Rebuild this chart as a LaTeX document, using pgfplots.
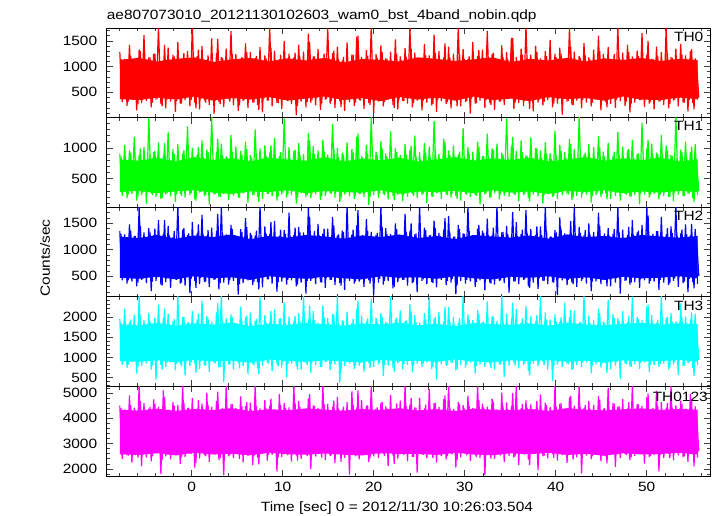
\documentclass[border=0pt]{standalone}
\usepackage{fontspec}
\setmainfont[FakeStretch=1.15]{Liberation Sans}
\usepackage{pgfplots}
\pgfplotsset{compat=1.18}
\usepackage{pgfplotstable}
\usepgfplotslibrary{fillbetween}

\definecolor{qred}{RGB}{255,0,0}
\definecolor{qgreen}{RGB}{0,255,0}
\definecolor{qblue}{RGB}{0,0,255}
\definecolor{qcyan}{RGB}{0,255,255}
\definecolor{qmag}{RGB}{255,0,255}

% light curves: even bins (a) and odd bins (b), high/low excursions
\pgfplotstableread[row sep=\\]{
y\\
1280\\ 310\\ 1150\\ 240\\ 1420\\ 380\\ 1090\\ 150\\ 1330\\ 290\\ 1610\\ 330\\ 1180\\ 210\\ 1250\\ 360\\ 1760\\ 270\\ 1120\\ 190\\
1370\\ 320\\ 1230\\ 120\\ 1480\\ 280\\ 1160\\ 350\\ 1300\\ 230\\ 1790\\ 300\\ 1210\\ 170\\ 1400\\ 340\\ 1130\\ 260\\ 1550\\ 90\\
1260\\ 310\\ 1190\\ 220\\ 1350\\ 370\\ 1690\\ 250\\ 1240\\ 140\\ 1110\\ 330\\ 1450\\ 200\\ 1280\\ 300\\ 1170\\ 260\\ 1380\\ 110\\
1220\\ 340\\ 1760\\ 230\\ 1310\\ 290\\ 1140\\ 180\\ 1500\\ 350\\ 1250\\ 270\\ 1180\\ 60\\ 1420\\ 320\\ 1290\\ 210\\ 1640\\ 300\\
1200\\ 250\\ 1340\\ 160\\ 1150\\ 360\\ 1770\\ 280\\ 1260\\ 200\\ 1390\\ 330\\ 1120\\ 140\\ 1470\\ 310\\ 1230\\ 240\\ 1580\\ 350\\
1190\\ 180\\ 1320\\ 290\\ 1780\\ 100\\ 1240\\ 320\\ 1410\\ 230\\ 1160\\ 360\\ 1290\\ 260\\ 1530\\ 170\\ 1200\\ 330\\ 1360\\ 280\\
1760\\ 210\\ 1270\\ 340\\ 1130\\ 150\\ 1440\\ 300\\ 1220\\ 250\\ 1620\\ 120\\ 1300\\ 330\\ 1180\\ 270\\ 1390\\ 190\\ 1250\\ 350\\
1770\\ 230\\ 1340\\ 310\\ 1150\\ 90\\ 1480\\ 280\\ 1210\\ 340\\ 1330\\ 200\\ 1690\\ 300\\ 1240\\ 160\\ 1120\\ 320\\ 1410\\ 260\\
1280\\ 370\\ 1560\\ 180\\ 1190\\ 290\\ 1350\\ 240\\ 1790\\ 330\\ 1230\\ 130\\ 1400\\ 300\\ 1160\\ 250\\ 1300\\ 350\\ 1520\\ 210\\
1250\\ 280\\ 1370\\ 70\\ 1140\\ 320\\ 1760\\ 260\\ 1290\\ 340\\ 1210\\ 190\\ 1460\\ 300\\ 1180\\ 230\\ 1330\\ 360\\ 1600\\ 150\\
1240\\ 310\\ 1380\\ 270\\ 1130\\ 200\\ 1770\\ 330\\ 1270\\ 240\\ 1420\\ 110\\ 1200\\ 300\\ 1310\\ 350\\ 1650\\ 220\\ 1230\\ 280\\
1150\\ 170\\ 1390\\ 320\\ 1280\\ 260\\ 1780\\ 190\\ 1190\\ 340\\ 1350\\ 230\\ 1440\\ 300\\ 1220\\ 130\\ 1300\\ 290\\ 1160\\ 360\\
}\tzeroa
\pgfplotstableread[row sep=\\]{
y\\
1150\\ 380\\ 1090\\ 320\\ 1210\\ 400\\ 1120\\ 270\\ 1300\\ 350\\ 1080\\ 410\\ 1180\\ 300\\ 1250\\ 380\\ 1110\\ 230\\ 1420\\ 360\\
1130\\ 390\\ 1200\\ 330\\ 1070\\ 280\\ 1260\\ 410\\ 1160\\ 350\\ 1100\\ 190\\ 1330\\ 370\\ 1140\\ 300\\ 1220\\ 400\\ 1090\\ 340\\
1540\\ 270\\ 1170\\ 380\\ 1120\\ 320\\ 1240\\ 410\\ 1080\\ 250\\ 1190\\ 360\\ 1280\\ 390\\ 1130\\ 300\\ 1210\\ 160\\ 1100\\ 380\\
1160\\ 340\\ 1370\\ 400\\ 1090\\ 290\\ 1230\\ 370\\ 1150\\ 330\\ 1110\\ 410\\ 1270\\ 240\\ 1180\\ 380\\ 1060\\ 310\\ 1480\\ 350\\
1200\\ 400\\ 1120\\ 280\\ 1250\\ 370\\ 1090\\ 330\\ 1310\\ 410\\ 1140\\ 220\\ 1190\\ 360\\ 1080\\ 390\\ 1230\\ 300\\ 1600\\ 340\\
1130\\ 380\\ 1210\\ 260\\ 1100\\ 410\\ 1170\\ 350\\ 1280\\ 310\\ 1150\\ 390\\ 1070\\ 200\\ 1240\\ 360\\ 1120\\ 330\\ 1190\\ 400\\
1350\\ 290\\ 1160\\ 380\\ 1090\\ 340\\ 1220\\ 410\\ 1130\\ 270\\ 1260\\ 360\\ 1110\\ 390\\ 1450\\ 310\\ 1180\\ 350\\ 1100\\ 230\\
1240\\ 400\\ 1150\\ 330\\ 1200\\ 380\\ 1080\\ 290\\ 1320\\ 410\\ 1170\\ 350\\ 1120\\ 260\\ 1270\\ 390\\ 1090\\ 320\\ 1190\\ 370\\
1140\\ 410\\ 1560\\ 300\\ 1110\\ 380\\ 1230\\ 340\\ 1160\\ 180\\ 1080\\ 400\\ 1290\\ 360\\ 1130\\ 310\\ 1210\\ 390\\ 1100\\ 280\\
1180\\ 370\\ 1250\\ 410\\ 1120\\ 330\\ 1390\\ 250\\ 1090\\ 380\\ 1170\\ 350\\ 1220\\ 400\\ 1140\\ 300\\ 1060\\ 370\\ 1300\\ 340\\
1160\\ 210\\ 1110\\ 390\\ 1240\\ 360\\ 1190\\ 410\\ 1080\\ 320\\ 1280\\ 280\\ 1130\\ 380\\ 1210\\ 350\\ 1100\\ 400\\ 1500\\ 310\\
1150\\ 380\\ 1200\\ 330\\ 1090\\ 410\\ 1260\\ 270\\ 1170\\ 360\\ 1120\\ 390\\ 1230\\ 300\\ 1140\\ 350\\ 1340\\ 170\\ 1110\\ 400\\
}\tzerob

\pgfplotstableread[row sep=\\]{
y\\
900\\ 220\\ 1050\\ 180\\ 960\\ 250\\ 1180\\ 140\\ 880\\ 230\\ 1010\\ 90\\ 1490\\ 260\\ 930\\ 200\\ 1090\\ 170\\ 870\\ 240\\
1250\\ 210\\ 980\\ 120\\ 1060\\ 250\\ 910\\ 190\\ 1350\\ 230\\ 1000\\ 160\\ 890\\ 270\\ 1120\\ 210\\ 970\\ 80\\ 1500\\ 240\\
940\\ 200\\ 1070\\ 250\\ 860\\ 150\\ 1210\\ 220\\ 1020\\ 190\\ 950\\ 260\\ 1100\\ 110\\ 880\\ 230\\ 1300\\ 200\\ 990\\ 170\\
1040\\ 250\\ 920\\ 210\\ 1160\\ 140\\ 870\\ 240\\ 1480\\ 190\\ 1010\\ 230\\ 950\\ 90\\ 1080\\ 260\\ 900\\ 200\\ 1240\\ 180\\
1030\\ 240\\ 960\\ 150\\ 1130\\ 220\\ 890\\ 260\\ 1390\\ 190\\ 1000\\ 120\\ 920\\ 240\\ 1090\\ 210\\ 980\\ 170\\ 1180\\ 250\\
870\\ 200\\ 1050\\ 70\\ 1500\\ 230\\ 940\\ 190\\ 1110\\ 250\\ 910\\ 160\\ 1270\\ 220\\ 1000\\ 240\\ 880\\ 130\\ 1060\\ 200\\
970\\ 250\\ 1200\\ 180\\ 930\\ 230\\ 1080\\ 100\\ 1020\\ 210\\ 1440\\ 260\\ 900\\ 170\\ 1150\\ 240\\ 960\\ 190\\ 1040\\ 220\\
890\\ 140\\ 1320\\ 250\\ 1010\\ 200\\ 940\\ 230\\ 1100\\ 80\\ 870\\ 240\\ 1230\\ 190\\ 990\\ 260\\ 1070\\ 160\\ 920\\ 220\\
1490\\ 200\\ 1030\\ 250\\ 950\\ 130\\ 1120\\ 230\\ 880\\ 180\\ 1170\\ 240\\ 1000\\ 210\\ 960\\ 90\\ 1090\\ 250\\ 910\\ 200\\
1280\\ 170\\ 1050\\ 230\\ 930\\ 260\\ 1140\\ 150\\ 980\\ 220\\ 1500\\ 190\\ 890\\ 240\\ 1060\\ 110\\ 1010\\ 230\\ 1190\\ 200\\
940\\ 260\\ 1080\\ 170\\ 870\\ 220\\ 1260\\ 140\\ 1020\\ 250\\ 960\\ 200\\ 1130\\ 230\\ 900\\ 80\\ 1410\\ 240\\ 990\\ 190\\
1070\\ 250\\ 920\\ 160\\ 1210\\ 220\\ 1040\\ 200\\ 880\\ 130\\ 1500\\ 240\\ 970\\ 210\\ 1100\\ 250\\ 930\\ 180\\ 1060\\ 230\\
}\tonea
\pgfplotstableread[row sep=\\]{
y\\
860\\ 280\\ 810\\ 240\\ 920\\ 300\\ 830\\ 210\\ 990\\ 270\\ 800\\ 290\\ 880\\ 230\\ 950\\ 300\\ 820\\ 180\\ 1080\\ 260\\
840\\ 290\\ 900\\ 250\\ 790\\ 220\\ 960\\ 300\\ 870\\ 260\\ 820\\ 140\\ 1010\\ 280\\ 850\\ 230\\ 930\\ 300\\ 810\\ 250\\
1150\\ 200\\ 880\\ 280\\ 830\\ 240\\ 940\\ 300\\ 800\\ 190\\ 890\\ 270\\ 980\\ 290\\ 840\\ 230\\ 910\\ 120\\ 820\\ 280\\
870\\ 250\\ 1040\\ 300\\ 800\\ 220\\ 930\\ 270\\ 860\\ 240\\ 820\\ 300\\ 970\\ 180\\ 880\\ 280\\ 780\\ 230\\ 1120\\ 260\\
900\\ 300\\ 830\\ 210\\ 950\\ 270\\ 810\\ 250\\ 1000\\ 300\\ 850\\ 170\\ 890\\ 270\\ 800\\ 290\\ 930\\ 220\\ 1230\\ 250\\
840\\ 280\\ 910\\ 200\\ 820\\ 300\\ 880\\ 260\\ 980\\ 230\\ 860\\ 290\\ 790\\ 150\\ 940\\ 270\\ 830\\ 240\\ 890\\ 300\\
1030\\ 220\\ 870\\ 280\\ 810\\ 250\\ 920\\ 300\\ 840\\ 200\\ 960\\ 270\\ 820\\ 290\\ 1100\\ 230\\ 880\\ 260\\ 820\\ 170\\
940\\ 300\\ 860\\ 240\\ 900\\ 280\\ 800\\ 220\\ 1020\\ 300\\ 870\\ 260\\ 830\\ 190\\ 970\\ 290\\ 810\\ 240\\ 890\\ 270\\
850\\ 300\\ 1180\\ 230\\ 820\\ 280\\ 930\\ 250\\ 860\\ 130\\ 800\\ 300\\ 990\\ 270\\ 840\\ 230\\ 910\\ 290\\ 820\\ 210\\
880\\ 270\\ 950\\ 300\\ 830\\ 240\\ 1060\\ 190\\ 810\\ 280\\ 870\\ 260\\ 920\\ 300\\ 850\\ 220\\ 790\\ 270\\ 1000\\ 250\\
860\\ 160\\ 820\\ 290\\ 940\\ 270\\ 890\\ 300\\ 800\\ 240\\ 980\\ 210\\ 840\\ 280\\ 910\\ 260\\ 820\\ 300\\ 1130\\ 230\\
860\\ 280\\ 900\\ 240\\ 810\\ 300\\ 960\\ 200\\ 870\\ 270\\ 830\\ 290\\ 930\\ 220\\ 840\\ 260\\ 1020\\ 120\\ 820\\ 300\\
}\toneb

\pgfplotstableread[row sep=\\]{
y\\
1350\\ 420\\ 1290\\ 360\\ 1480\\ 400\\ 1260\\ 310\\ 1820\\ 430\\ 1330\\ 370\\ 1410\\ 220\\ 1270\\ 410\\ 1560\\ 340\\ 1300\\ 390\\
1450\\ 280\\ 1240\\ 440\\ 1830\\ 360\\ 1380\\ 320\\ 1280\\ 180\\ 1520\\ 410\\ 1310\\ 350\\ 1660\\ 390\\ 1260\\ 300\\ 1420\\ 430\\
1350\\ 250\\ 1810\\ 380\\ 1290\\ 340\\ 1470\\ 410\\ 1250\\ 150\\ 1390\\ 370\\ 1600\\ 420\\ 1320\\ 330\\ 1270\\ 390\\ 1830\\ 290\\
1440\\ 440\\ 1300\\ 360\\ 1540\\ 210\\ 1260\\ 400\\ 1370\\ 340\\ 1700\\ 420\\ 1280\\ 310\\ 1430\\ 380\\ 1330\\ 170\\ 1820\\ 410\\
1250\\ 350\\ 1490\\ 390\\ 1310\\ 280\\ 1400\\ 430\\ 1620\\ 330\\ 1270\\ 370\\ 1360\\ 240\\ 1830\\ 410\\ 1290\\ 360\\ 1460\\ 400\\
1250\\ 300\\ 1580\\ 420\\ 1340\\ 140\\ 1280\\ 380\\ 1810\\ 340\\ 1410\\ 410\\ 1300\\ 270\\ 1500\\ 390\\ 1260\\ 430\\ 1680\\ 320\\
1350\\ 370\\ 1290\\ 200\\ 1830\\ 410\\ 1420\\ 350\\ 1270\\ 390\\ 1550\\ 290\\ 1320\\ 430\\ 1380\\ 330\\ 1640\\ 380\\ 1250\\ 160\\
1470\\ 410\\ 1310\\ 360\\ 1820\\ 400\\ 1280\\ 300\\ 1400\\ 420\\ 1360\\ 230\\ 1590\\ 380\\ 1270\\ 340\\ 1830\\ 410\\ 1330\\ 370\\
1450\\ 190\\ 1260\\ 400\\ 1520\\ 350\\ 1300\\ 430\\ 1750\\ 310\\ 1390\\ 380\\ 1280\\ 260\\ 1440\\ 410\\ 1810\\ 350\\ 1250\\ 390\\
1370\\ 140\\ 1610\\ 420\\ 1310\\ 330\\ 1290\\ 380\\ 1830\\ 300\\ 1430\\ 410\\ 1270\\ 360\\ 1500\\ 220\\ 1340\\ 400\\ 1700\\ 350\\
1260\\ 430\\ 1410\\ 310\\ 1300\\ 380\\ 1820\\ 170\\ 1380\\ 410\\ 1280\\ 340\\ 1560\\ 390\\ 1330\\ 280\\ 1470\\ 420\\ 1810\\ 360\\
1250\\ 400\\ 1350\\ 240\\ 1620\\ 380\\ 1290\\ 330\\ 1440\\ 410\\ 1830\\ 300\\ 1310\\ 370\\ 1480\\ 200\\ 1270\\ 390\\ 1390\\ 350\\
}\ttwoa
\pgfplotstableread[row sep=\\]{
y\\
1300\\ 470\\ 1240\\ 420\\ 1360\\ 500\\ 1260\\ 380\\ 1450\\ 450\\ 1230\\ 490\\ 1330\\ 400\\ 1400\\ 480\\ 1250\\ 320\\ 1560\\ 460\\
1270\\ 490\\ 1350\\ 430\\ 1220\\ 380\\ 1410\\ 500\\ 1310\\ 450\\ 1250\\ 280\\ 1480\\ 470\\ 1280\\ 400\\ 1370\\ 500\\ 1240\\ 440\\
1680\\ 370\\ 1320\\ 480\\ 1260\\ 420\\ 1390\\ 500\\ 1230\\ 350\\ 1340\\ 460\\ 1430\\ 490\\ 1280\\ 400\\ 1360\\ 250\\ 1250\\ 480\\
1310\\ 440\\ 1520\\ 500\\ 1240\\ 390\\ 1380\\ 470\\ 1300\\ 430\\ 1260\\ 500\\ 1420\\ 340\\ 1330\\ 480\\ 1210\\ 410\\ 1620\\ 450\\
1350\\ 500\\ 1270\\ 380\\ 1400\\ 470\\ 1240\\ 430\\ 1460\\ 500\\ 1290\\ 320\\ 1340\\ 460\\ 1230\\ 490\\ 1380\\ 400\\ 1750\\ 440\\
1280\\ 480\\ 1360\\ 360\\ 1250\\ 500\\ 1320\\ 450\\ 1430\\ 410\\ 1300\\ 490\\ 1220\\ 300\\ 1390\\ 460\\ 1270\\ 430\\ 1340\\ 500\\
1500\\ 390\\ 1310\\ 480\\ 1240\\ 440\\ 1370\\ 500\\ 1280\\ 370\\ 1410\\ 460\\ 1260\\ 490\\ 1600\\ 410\\ 1330\\ 450\\ 1250\\ 330\\
1390\\ 500\\ 1300\\ 430\\ 1350\\ 480\\ 1230\\ 390\\ 1470\\ 500\\ 1320\\ 450\\ 1270\\ 360\\ 1420\\ 490\\ 1240\\ 420\\ 1340\\ 470\\
1290\\ 500\\ 1710\\ 400\\ 1260\\ 480\\ 1380\\ 440\\ 1310\\ 280\\ 1230\\ 500\\ 1440\\ 460\\ 1280\\ 410\\ 1360\\ 490\\ 1250\\ 380\\
1330\\ 470\\ 1400\\ 500\\ 1270\\ 430\\ 1540\\ 350\\ 1240\\ 480\\ 1320\\ 450\\ 1370\\ 500\\ 1290\\ 400\\ 1210\\ 470\\ 1450\\ 440\\
1310\\ 310\\ 1260\\ 490\\ 1390\\ 460\\ 1340\\ 500\\ 1230\\ 420\\ 1430\\ 380\\ 1280\\ 480\\ 1360\\ 450\\ 1250\\ 500\\ 1650\\ 410\\
1300\\ 480\\ 1350\\ 430\\ 1240\\ 500\\ 1410\\ 370\\ 1320\\ 460\\ 1270\\ 490\\ 1380\\ 400\\ 1290\\ 450\\ 1490\\ 270\\ 1260\\ 500\\
}\ttwob

\pgfplotstableread[row sep=\\]{
y\\
1950\\ 820\\ 2200\\ 740\\ 1870\\ 880\\ 2050\\ 600\\ 2520\\ 790\\ 1920\\ 850\\ 2100\\ 700\\ 1840\\ 450\\ 2300\\ 810\\ 1980\\ 760\\
2080\\ 870\\ 1890\\ 680\\ 2510\\ 830\\ 2000\\ 560\\ 1860\\ 790\\ 2150\\ 860\\ 1930\\ 720\\ 2400\\ 800\\ 2020\\ 640\\ 1880\\ 870\\
2120\\ 750\\ 2530\\ 400\\ 1960\\ 820\\ 2060\\ 700\\ 1850\\ 860\\ 2250\\ 780\\ 1990\\ 590\\ 2110\\ 840\\ 1900\\ 730\\ 2500\\ 800\\
2040\\ 870\\ 1870\\ 660\\ 2180\\ 820\\ 1950\\ 750\\ 2360\\ 500\\ 2010\\ 850\\ 1880\\ 780\\ 2090\\ 700\\ 2520\\ 860\\ 1930\\ 620\\
2140\\ 810\\ 1860\\ 760\\ 2280\\ 880\\ 1970\\ 690\\ 2070\\ 820\\ 2510\\ 380\\ 1910\\ 790\\ 2130\\ 850\\ 1850\\ 720\\ 2200\\ 800\\
2030\\ 650\\ 1890\\ 870\\ 2450\\ 760\\ 1980\\ 830\\ 2100\\ 540\\ 1870\\ 800\\ 2530\\ 740\\ 1940\\ 860\\ 2160\\ 700\\ 1900\\ 810\\
2320\\ 630\\ 2050\\ 850\\ 1860\\ 770\\ 2090\\ 880\\ 2500\\ 720\\ 1960\\ 450\\ 2120\\ 830\\ 1880\\ 790\\ 2240\\ 860\\ 2000\\ 680\\
1850\\ 810\\ 2520\\ 750\\ 2060\\ 870\\ 1920\\ 600\\ 2170\\ 820\\ 1870\\ 770\\ 2380\\ 850\\ 2010\\ 700\\ 1900\\ 830\\ 2530\\ 520\\
2080\\ 790\\ 1950\\ 860\\ 2190\\ 730\\ 1860\\ 810\\ 2270\\ 660\\ 2020\\ 850\\ 1890\\ 780\\ 2510\\ 880\\ 2110\\ 700\\ 1940\\ 420\\
2060\\ 820\\ 1870\\ 760\\ 2350\\ 850\\ 1990\\ 690\\ 2140\\ 810\\ 1850\\ 770\\ 2520\\ 870\\ 2030\\ 610\\ 1910\\ 830\\ 2200\\ 750\\
1880\\ 860\\ 2420\\ 700\\ 2070\\ 800\\ 1960\\ 480\\ 2150\\ 850\\ 1870\\ 780\\ 2500\\ 830\\ 2000\\ 720\\ 1920\\ 870\\ 2260\\ 640\\
2040\\ 810\\ 1860\\ 760\\ 2530\\ 850\\ 1970\\ 700\\ 2100\\ 820\\ 1890\\ 570\\ 2330\\ 790\\ 2010\\ 860\\ 1940\\ 740\\ 2080\\ 810\\
}\tthreea
\pgfplotstableread[row sep=\\]{
y\\
1850\\ 900\\ 1790\\ 820\\ 1930\\ 940\\ 1810\\ 760\\ 2050\\ 880\\ 1780\\ 930\\ 1890\\ 800\\ 1980\\ 910\\ 1800\\ 700\\ 2200\\ 870\\
1830\\ 920\\ 1940\\ 850\\ 1770\\ 780\\ 2000\\ 940\\ 1870\\ 880\\ 1800\\ 620\\ 2080\\ 900\\ 1840\\ 800\\ 1960\\ 940\\ 1790\\ 850\\
2330\\ 760\\ 1880\\ 910\\ 1820\\ 830\\ 1990\\ 940\\ 1780\\ 730\\ 1900\\ 880\\ 2030\\ 920\\ 1840\\ 800\\ 1950\\ 580\\ 1800\\ 910\\
1860\\ 850\\ 2150\\ 940\\ 1790\\ 780\\ 1970\\ 890\\ 1850\\ 830\\ 1810\\ 940\\ 2020\\ 700\\ 1890\\ 910\\ 1760\\ 810\\ 2280\\ 870\\
1920\\ 940\\ 1820\\ 760\\ 1990\\ 890\\ 1790\\ 840\\ 2060\\ 940\\ 1840\\ 690\\ 1900\\ 880\\ 1780\\ 920\\ 1950\\ 800\\ 2400\\ 860\\
1830\\ 910\\ 1960\\ 740\\ 1800\\ 940\\ 1880\\ 870\\ 2010\\ 810\\ 1850\\ 930\\ 1770\\ 650\\ 1980\\ 880\\ 1820\\ 840\\ 1910\\ 940\\
2120\\ 790\\ 1870\\ 910\\ 1800\\ 850\\ 1940\\ 940\\ 1830\\ 760\\ 2000\\ 880\\ 1810\\ 920\\ 2250\\ 810\\ 1890\\ 870\\ 1800\\ 700\\
1970\\ 940\\ 1850\\ 830\\ 1920\\ 910\\ 1780\\ 790\\ 2070\\ 940\\ 1880\\ 870\\ 1820\\ 740\\ 2010\\ 920\\ 1790\\ 820\\ 1900\\ 890\\
1840\\ 940\\ 2350\\ 800\\ 1810\\ 910\\ 1960\\ 850\\ 1860\\ 560\\ 1780\\ 940\\ 2040\\ 880\\ 1830\\ 810\\ 1940\\ 920\\ 1800\\ 780\\
1890\\ 890\\ 1990\\ 940\\ 1820\\ 830\\ 2180\\ 720\\ 1790\\ 910\\ 1870\\ 870\\ 1930\\ 940\\ 1850\\ 800\\ 1760\\ 890\\ 2090\\ 850\\
1860\\ 620\\ 1810\\ 920\\ 1970\\ 880\\ 1900\\ 940\\ 1780\\ 830\\ 2030\\ 770\\ 1840\\ 910\\ 1950\\ 870\\ 1800\\ 940\\ 2300\\ 810\\
1850\\ 910\\ 1920\\ 840\\ 1790\\ 940\\ 2000\\ 750\\ 1870\\ 880\\ 1820\\ 920\\ 1980\\ 800\\ 1840\\ 870\\ 2110\\ 540\\ 1810\\ 940\\
}\tthreeb

\pgfplotstableread[row sep=\\]{
y\\
4500\\ 2400\\ 4350\\ 2550\\ 4900\\ 2250\\ 4420\\ 2600\\ 5290\\ 2100\\ 4600\\ 2450\\ 4380\\ 2300\\ 4750\\ 2620\\ 4460\\ 1800\\ 5100\\ 2500\\
4330\\ 2380\\ 4650\\ 2580\\ 4520\\ 2200\\ 5300\\ 2480\\ 4400\\ 2610\\ 4800\\ 2050\\ 4370\\ 2420\\ 4580\\ 2550\\ 5000\\ 2280\\ 4450\\ 2600\\
4690\\ 2350\\ 4340\\ 1750\\ 5280\\ 2500\\ 4560\\ 2430\\ 4410\\ 2590\\ 4870\\ 2260\\ 4480\\ 2520\\ 4620\\ 2150\\ 5300\\ 2450\\ 4390\\ 2600\\
4720\\ 2330\\ 4500\\ 2560\\ 4350\\ 1900\\ 4950\\ 2470\\ 4600\\ 2610\\ 4430\\ 2290\\ 5270\\ 2530\\ 4680\\ 2400\\ 4370\\ 2580\\ 4790\\ 2000\\
4510\\ 2490\\ 4400\\ 2620\\ 5300\\ 2350\\ 4570\\ 2510\\ 4460\\ 2230\\ 4850\\ 2600\\ 4340\\ 2440\\ 4640\\ 1780\\ 5060\\ 2560\\ 4420\\ 2390\\
4730\\ 2600\\ 4500\\ 2270\\ 5290\\ 2500\\ 4380\\ 2430\\ 4610\\ 2590\\ 4470\\ 2120\\ 4920\\ 2540\\ 4360\\ 2410\\ 4700\\ 2610\\ 5300\\ 2300\\
4540\\ 2480\\ 4430\\ 1850\\ 4810\\ 2570\\ 4390\\ 2420\\ 5150\\ 2600\\ 4600\\ 2250\\ 4450\\ 2510\\ 4760\\ 2380\\ 5300\\ 2590\\ 4370\\ 2060\\
4650\\ 2460\\ 4520\\ 2610\\ 4890\\ 2320\\ 4410\\ 2540\\ 5280\\ 2430\\ 4580\\ 1760\\ 4460\\ 2580\\ 4780\\ 2400\\ 4350\\ 2600\\ 5010\\ 2280\\
4630\\ 2520\\ 4490\\ 2450\\ 5300\\ 2150\\ 4400\\ 2590\\ 4710\\ 2370\\ 4550\\ 2610\\ 4360\\ 1950\\ 4940\\ 2500\\ 4620\\ 2420\\ 4440\\ 2580\\
5270\\ 2330\\ 4570\\ 2550\\ 4380\\ 2240\\ 4830\\ 2600\\ 4500\\ 2460\\ 5300\\ 1820\\ 4410\\ 2530\\ 4690\\ 2390\\ 4530\\ 2610\\ 4880\\ 2300\\
4370\\ 2500\\ 5200\\ 2570\\ 4600\\ 2080\\ 4450\\ 2440\\ 4770\\ 2590\\ 4390\\ 2350\\ 5290\\ 2520\\ 4560\\ 2610\\ 4480\\ 2210\\ 4840\\ 2480\\
4350\\ 2560\\ 5080\\ 1900\\ 4640\\ 2430\\ 4420\\ 2600\\ 5300\\ 2340\\ 4510\\ 2540\\ 4700\\ 2470\\ 4380\\ 2280\\ 4960\\ 2590\\ 4470\\ 2450\\
}\tfoura
\pgfplotstableread[row sep=\\]{
y\\
4400\\ 2620\\ 4290\\ 2530\\ 4520\\ 2680\\ 4320\\ 2450\\ 4680\\ 2600\\ 4270\\ 2660\\ 4450\\ 2500\\ 4580\\ 2640\\ 4300\\ 2350\\ 4850\\ 2580\\
4340\\ 2650\\ 4500\\ 2560\\ 4260\\ 2470\\ 4610\\ 2690\\ 4420\\ 2600\\ 4310\\ 2240\\ 4720\\ 2630\\ 4360\\ 2500\\ 4540\\ 2680\\ 4280\\ 2570\\
5050\\ 2430\\ 4410\\ 2640\\ 4330\\ 2540\\ 4560\\ 2690\\ 4270\\ 2400\\ 4470\\ 2610\\ 4640\\ 2660\\ 4350\\ 2500\\ 4490\\ 2180\\ 4300\\ 2630\\
4390\\ 2560\\ 4780\\ 2690\\ 4280\\ 2460\\ 4530\\ 2620\\ 4400\\ 2550\\ 4320\\ 2690\\ 4600\\ 2330\\ 4440\\ 2640\\ 4250\\ 2510\\ 4950\\ 2590\\
4480\\ 2690\\ 4340\\ 2450\\ 4570\\ 2610\\ 4290\\ 2550\\ 4700\\ 2690\\ 4380\\ 2280\\ 4460\\ 2600\\ 4270\\ 2650\\ 4550\\ 2500\\ 5100\\ 2580\\
4360\\ 2640\\ 4510\\ 2420\\ 4300\\ 2690\\ 4430\\ 2590\\ 4650\\ 2520\\ 4390\\ 2660\\ 4260\\ 2200\\ 4590\\ 2610\\ 4330\\ 2550\\ 4470\\ 2690\\
4800\\ 2480\\ 4420\\ 2640\\ 4290\\ 2560\\ 4540\\ 2690\\ 4370\\ 2430\\ 4620\\ 2600\\ 4310\\ 2650\\ 4900\\ 2510\\ 4450\\ 2590\\ 4300\\ 2350\\
4570\\ 2690\\ 4390\\ 2540\\ 4490\\ 2640\\ 4270\\ 2470\\ 4730\\ 2690\\ 4430\\ 2600\\ 4340\\ 2410\\ 4660\\ 2650\\ 4280\\ 2530\\ 4480\\ 2620\\
4360\\ 2690\\ 5000\\ 2500\\ 4310\\ 2640\\ 4560\\ 2570\\ 4410\\ 2150\\ 4270\\ 2690\\ 4690\\ 2610\\ 4350\\ 2520\\ 4530\\ 2660\\ 4300\\ 2440\\
4460\\ 2620\\ 4600\\ 2690\\ 4330\\ 2550\\ 4880\\ 2380\\ 4280\\ 2640\\ 4440\\ 2590\\ 4520\\ 2690\\ 4380\\ 2500\\ 4250\\ 2620\\ 4740\\ 2560\\
4400\\ 2220\\ 4300\\ 2660\\ 4580\\ 2610\\ 4480\\ 2690\\ 4270\\ 2550\\ 4640\\ 2470\\ 4360\\ 2640\\ 4550\\ 2600\\ 4310\\ 2690\\ 4970\\ 2520\\
4410\\ 2640\\ 4500\\ 2560\\ 4290\\ 2690\\ 4610\\ 2430\\ 4420\\ 2620\\ 4330\\ 2660\\ 4570\\ 2500\\ 4370\\ 2600\\ 4760\\ 2100\\ 4300\\ 2690\\
}\tfourb

% dense core of each curve: upper / lower edge every ~2 s
\pgfplotstableread[row sep=\\]{
u l\\
1130 370\\ 1170 350\\ 1100 400\\ 1150 360\\ 1180 420\\ 1090 340\\ 1140 390\\ 1170 360\\ 1100 410\\ 1160 340\\ 1120 380\\
1170 420\\ 1080 350\\ 1150 390\\ 1130 330\\ 1100 410\\ 1180 360\\ 1150 400\\ 1110 340\\ 1140 420\\ 1180 350\\ 1090 380\\
1150 330\\ 1120 410\\ 1170 370\\ 1100 390\\ 1160 340\\ 1130 420\\ 1170 360\\ 1110 350\\ 1150 400\\ 1130 370\\
}\bzero
\pgfplotstableread[row sep=\\]{
u l\\
810 280\\ 790 300\\ 840 260\\ 780 290\\ 850 310\\ 800 270\\ 830 250\\ 780 290\\ 840 280\\ 810 310\\ 790 260\\
850 300\\ 780 280\\ 820 270\\ 800 310\\ 840 250\\ 780 290\\ 810 280\\ 850 300\\ 790 260\\ 830 310\\ 800 270\\
840 290\\ 780 250\\ 810 300\\ 850 280\\ 790 310\\ 830 260\\ 800 290\\ 840 270\\ 780 300\\ 810 280\\
}\bone
\pgfplotstableread[row sep=\\]{
u l\\
1250 470\\ 1220 450\\ 1280 490\\ 1210 440\\ 1270 500\\ 1240 460\\ 1290 480\\ 1200 430\\ 1260 500\\ 1230 470\\ 1280 450\\
1250 490\\ 1210 460\\ 1270 440\\ 1240 500\\ 1290 470\\ 1220 480\\ 1260 450\\ 1200 500\\ 1280 460\\ 1250 440\\ 1230 490\\
1270 470\\ 1210 500\\ 1290 450\\ 1240 480\\ 1260 430\\ 1220 490\\ 1280 460\\ 1250 470\\ 1230 500\\ 1260 460\\
}\btwo
\pgfplotstableread[row sep=\\]{
u l\\
1820 910\\ 1790 890\\ 1850 930\\ 1780 880\\ 1840 940\\ 1810 900\\ 1860 920\\ 1770 870\\ 1830 950\\ 1800 910\\ 1850 890\\
1820 930\\ 1780 900\\ 1840 880\\ 1810 940\\ 1860 910\\ 1790 920\\ 1830 890\\ 1770 950\\ 1850 900\\ 1820 880\\ 1800 930\\
1840 910\\ 1780 940\\ 1860 890\\ 1810 920\\ 1790 870\\ 1830 930\\ 1850 900\\ 1810 910\\ 1840 940\\ 1820 900\\
}\bthree
\pgfplotstableread[row sep=\\]{
u l\\
4340 2580\\ 4300 2550\\ 4380 2620\\ 4290 2530\\ 4370 2640\\ 4330 2570\\ 4400 2600\\ 4280 2540\\ 4360 2640\\ 4320 2580\\ 4390 2560\\
4340 2610\\ 4300 2560\\ 4370 2530\\ 4330 2630\\ 4400 2590\\ 4310 2600\\ 4360 2550\\ 4280 2640\\ 4380 2570\\ 4340 2540\\ 4320 2620\\
4370 2580\\ 4290 2640\\ 4400 2550\\ 4340 2600\\ 4310 2520\\ 4360 2620\\ 4390 2570\\ 4330 2590\\ 4370 2640\\ 4340 2570\\
}\bfour

\newcommand{\fnt}{\fontsize{13.5}{16}\selectfont}

\pgfplotsset{
  panel/.style={
    scale only axis, width=603.3bp, height=89.6bp,
    xmin=-9.34, xmax=56.96,
    xtick={0,10,...,50}, minor xtick={-8,-6,...,56},
    tick align=inside,
    major tick length=6bp, minor tick length=3.3bp,
    every tick/.style={black!75, line width=0.6bp},
    axis line style={line width=0.8bp},
    tick label style={font=\fnt},
    yticklabel style={xshift=-6bp},
    xticklabel style={yshift=-2.5bp},
    scaled ticks=false,
    /pgf/number format/assume math mode=true,
    /pgf/number format/1000 sep={},
  },
  zz/.style={line width=1.2bp},
}

% one panel: #1 colour, #2 core table, #3 even bins, #4 odd bins, #5 path suffix
\newcommand{\curve}[5]{%
  \addplot[draw=none, name path=u#5] table[x expr=-7.9+2.048*\coordindex, y=u] {#2};
  \addplot[draw=none, name path=l#5] table[x expr=-7.9+2.048*\coordindex, y=l] {#2};
  \addplot[fill=#1, draw=none] fill between[of=u#5 and l#5];
  \addplot[#1, zz] table[x expr=-7.9+0.26569*\coordindex, y=y] {#3};
  \addplot[#1, zz] table[x expr=-7.767+0.26569*\coordindex, y=y] {#4};
}

\begin{document}
\begin{tikzpicture}[font=\fnt]

\begin{axis}[panel, name=p1, at={(0,0)}, anchor=north west, xticklabels={},
  ymin=10, ymax=1750, ytick={500,1000,1500}, minor ytick={100,200,...,1700}]
\curve{qred}{\bzero}{\tzeroa}{\tzerob}{0}
\node[anchor=north east, inner sep=0pt, xshift=-6.5bp, yshift=-3.7bp] at (rel axis cs:1,1) {TH0};
\end{axis}

\begin{axis}[panel, name=p2, at={(p1.south west)}, anchor=north west, xticklabels={},
  ymin=33, ymax=1493, ytick={500,1000}, minor ytick={100,200,...,1400}]
\curve{qgreen}{\bone}{\tonea}{\toneb}{1}
\node[anchor=north east, inner sep=0pt, xshift=-6.5bp, yshift=-3.7bp] at (rel axis cs:1,1) {TH1};
\end{axis}

\begin{axis}[panel, name=p3, at={(p2.south west)}, anchor=north west, xticklabels={},
  ymin=110, ymax=1805, ytick={500,1000,1500}, minor ytick={200,300,...,1800}]
\curve{qblue}{\btwo}{\ttwoa}{\ttwob}{2}
\node[anchor=north east, inner sep=0pt, xshift=-6.5bp, yshift=-3.7bp] at (rel axis cs:1,1) {TH2};
\end{axis}

\begin{axis}[panel, name=p4, at={(p3.south west)}, anchor=north west, xticklabels={},
  ymin=285, ymax=2495, ytick={500,1000,...,2000}, minor ytick={300,400,...,2400}]
\curve{qcyan}{\bthree}{\tthreea}{\tthreeb}{3}
\node[anchor=north east, inner sep=0pt, xshift=-6.5bp, yshift=-3.7bp] at (rel axis cs:1,1) {TH3};
\end{axis}

\begin{axis}[panel, name=p5, at={(p4.south west)}, anchor=north west,
  ymin=1720, ymax=5260, ytick={2000,3000,4000,5000}, minor ytick={1800,2000,...,5200}]
\curve{qmag}{\bfour}{\tfoura}{\tfourb}{4}
\node[anchor=north east, inner sep=0pt, xshift=-2bp, yshift=-5.7bp] at (rel axis cs:1,1) {TH0123};
\end{axis}

\node[anchor=base west, inner sep=0pt] at (0bp,8.7bp) {ae807073010\_20121130102603\_wam0\_bst\_4band\_nobin.qdp};
\node[rotate=90, anchor=base, inner sep=0pt] at (-56.7bp,-230bp) {Counts/sec};
\node[anchor=base, inner sep=0pt] at (290.3bp,-483bp) {Time [sec] 0 = 2012/11/30 10:26:03.504};

\pgfresetboundingbox
\path[use as bounding box] (-106.7bp,28bp) rectangle (610.3bp,-488bp);
\end{tikzpicture}
\end{document}
